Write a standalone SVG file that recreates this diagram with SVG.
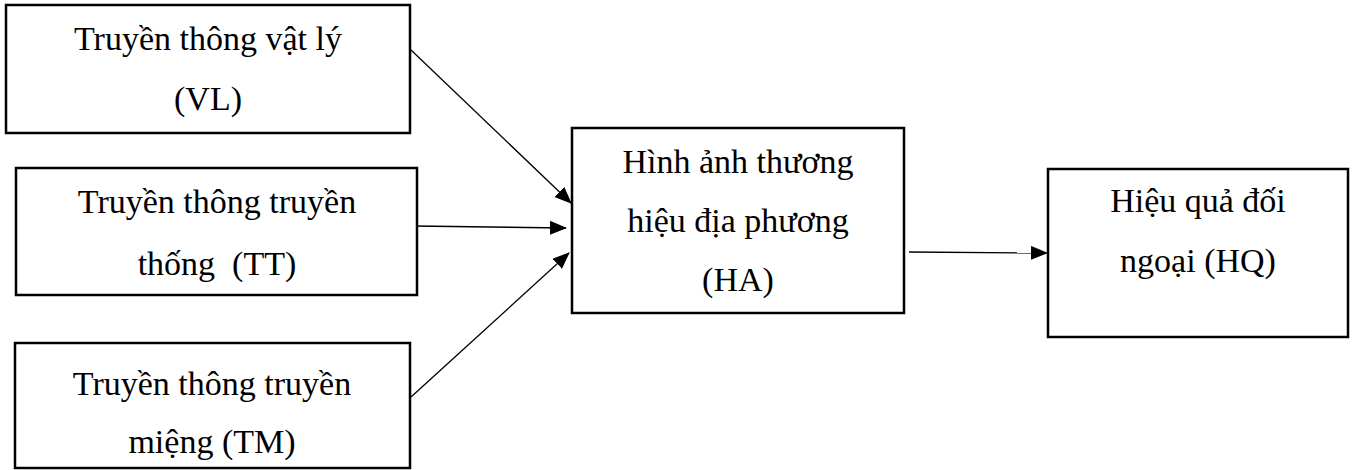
<svg xmlns="http://www.w3.org/2000/svg" width="1356" height="470" viewBox="0 0 1356 470">
<style>
.box{fill:#fff;stroke:#000;stroke-width:2.5}
.t{font-family:"Liberation Serif","Times New Roman",serif;font-size:34px;fill:#000;text-anchor:middle;white-space:pre}
.c{stroke:#000;stroke-width:1.3;fill:none}
</style>
<defs>
<marker id="ah" markerUnits="userSpaceOnUse" markerWidth="17" markerHeight="14" refX="16" refY="7" orient="auto">
<path d="M0,0 L17,7 L0,14 z" fill="#000"/>
</marker>
</defs>
<rect width="1356" height="470" fill="#fff"/>
<g id="connectors">
<line class="c" x1="411" y1="50" x2="571" y2="203" marker-end="url(#ah)"/>
<line class="c" x1="414" y1="226" x2="566" y2="228" marker-end="url(#ah)"/>
<line class="c" x1="411" y1="397" x2="569" y2="253" marker-end="url(#ah)"/>
<line class="c" x1="909" y1="252" x2="1047" y2="253" marker-end="url(#ah)"/>
</g>
<g id="VL">
<rect class="box" x="6" y="5" width="404" height="128"/>
<text class="t" x="208" y="50">Truyền thông vật lý</text>
<text class="t" x="208" y="110">(VL)</text>
</g>
<g id="TT">
<rect class="box" x="16" y="168" width="401" height="127"/>
<text class="t" x="217" y="213">Truyền thông truyền</text>
<text class="t" x="217" y="275" xml:space="preserve">thống  (TT)</text>
</g>
<g id="TM">
<rect class="box" x="15" y="343" width="395" height="125"/>
<text class="t" x="212" y="395">Truyền thông truyền</text>
<text class="t" x="212" y="453">miệng (TM)</text>
</g>
<g id="HA">
<rect class="box" x="572" y="128" width="332" height="185"/>
<text class="t" x="738" y="173">Hình ảnh thương</text>
<text class="t" x="738" y="232">hiệu địa phương</text>
<text class="t" x="738" y="291">(HA)</text>
</g>
<g id="HQ">
<rect class="box" x="1048" y="169" width="300" height="168"/>
<text class="t" x="1198" y="212">Hiệu quả đối</text>
<text class="t" x="1198" y="272">ngoại (HQ)</text>
</g>
</svg>
